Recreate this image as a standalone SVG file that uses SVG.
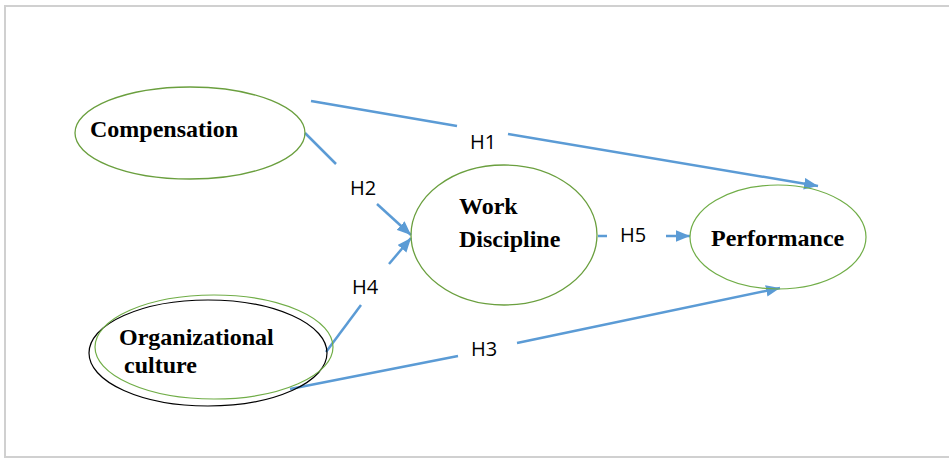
<svg xmlns="http://www.w3.org/2000/svg" width="949" height="459" viewBox="0 0 949 459">
<style>
.node{fill:none;stroke:#6a9f3e;stroke-width:1.3}
.nt{font-family:"Liberation Serif","Times New Roman",serif;font-weight:bold;font-size:24px;fill:#000}
.lab{font-family:"Open Sans","Noto Sans",sans-serif;font-size:20px;fill:#000}
.c{fill:none;stroke:#5b9bd5;stroke-width:2.5}
</style>
<defs>
<marker id="ah" markerUnits="userSpaceOnUse" markerWidth="14" markerHeight="12" refX="12" refY="5" orient="auto" viewBox="0 0 12 10">
<path d="M0,0 L12,5 L0,10 Z" fill="#5b9bd5"/>
</marker>
</defs>
<rect x="5" y="6" width="950" height="451" fill="#fff" stroke="#d0d0d0" stroke-width="2"/>
<g id="connectors">
<line class="c" x1="311" y1="101" x2="457" y2="126"/>
<line class="c" x1="508" y1="134" x2="818" y2="186" marker-end="url(#ah)"/>
<line class="c" x1="305" y1="133" x2="336" y2="164"/>
<line class="c" x1="377" y1="204" x2="411" y2="235" marker-end="url(#ah)"/>
<line class="c" x1="326" y1="352" x2="361" y2="305"/>
<line class="c" x1="389" y1="264" x2="411" y2="238" marker-end="url(#ah)"/>
<line class="c" x1="290" y1="389" x2="458" y2="356"/>
<line class="c" x1="517" y1="343" x2="780" y2="288" marker-end="url(#ah)"/>
<line class="c" x1="598" y1="236" x2="607" y2="236"/>
<line class="c" x1="666" y1="236" x2="690" y2="236" marker-end="url(#ah)"/>
<text class="lab" x="470" y="149">H1</text>
<text class="lab" x="350" y="195">H2</text>
<text class="lab" x="352" y="294">H4</text>
<text class="lab" x="471" y="356">H3</text>
<text class="lab" x="620" y="242">H5</text>
</g>
<g id="compensation">
<ellipse class="node" cx="190" cy="133" rx="115" ry="46"/>
<text class="nt" x="90" y="137">Compensation</text>
</g>
<g id="organizational-culture">
<ellipse cx="208" cy="353" rx="119" ry="53" fill="none" stroke="#000" stroke-width="1.2"/>
<ellipse cx="214" cy="347" rx="119" ry="52" fill="none" stroke="#70ad47" stroke-width="1.2"/>
<text class="nt" x="119" y="345">Organizational</text>
<text class="nt" x="124" y="373">culture</text>
</g>
<g id="work-discipline">
<ellipse class="node" cx="504" cy="235" rx="93" ry="70"/>
<text class="nt" x="459" y="214">Work</text>
<text class="nt" x="459" y="247">Discipline</text>
</g>
<g id="performance">
<ellipse cx="778" cy="237" rx="88" ry="52" fill="none" stroke="#70ad47" stroke-width="1.2"/>
<text class="nt" x="711" y="246">Performance</text>
</g>
</svg>
